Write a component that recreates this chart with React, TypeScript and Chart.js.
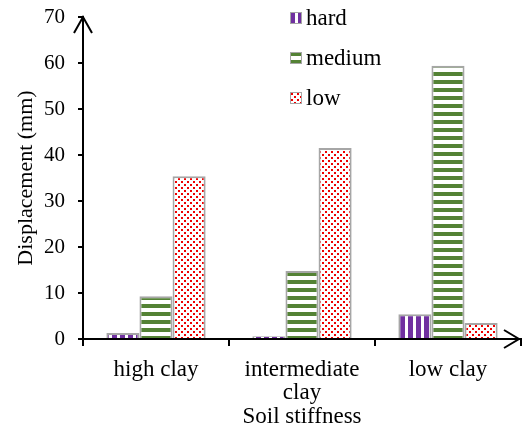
import { useEffect, useRef } from 'react';
import { Chart, registerables } from 'chart.js';

Chart.register(...registerables);

const FONT = '"Liberation Serif", "Times New Roman", serif';

// Soil categories along the x axis
const categories: (string | string[])[] = ['high clay', ['intermediate', 'clay'], 'low clay'];
const seriesNames = ['hard', 'medium', 'low'];

// Displacement (mm) for each series
const hardValues = [1.3, 0.6, 5.4];
const mediumValues = [9.3, 14.8, 59.4];
const lowValues = [35.4, 41.5, 3.5];

// y axis range and tick step
const yMin = 0;
const yMax = 70;
const yStep = 10;

const PURPLE = '#7030a0';
const GREEN = '#548235';
const RED = '#ee0000';
const EDGE = '#a6a6a6';

function makeTile(w: number, h: number, draw: (c: CanvasRenderingContext2D) => void) {
  const cv = document.createElement('canvas');
  cv.width = w;
  cv.height = h;
  const c = cv.getContext('2d')!;
  c.fillStyle = '#ffffff';
  c.fillRect(0, 0, w, h);
  draw(c);
  return cv;
}

function buildPatterns(ctx: CanvasRenderingContext2D) {
  const vertical = makeTile(8, 8, (c) => {
    c.fillStyle = PURPLE;
    c.fillRect(0, 0, 5, 8);
  });
  const horizontal = makeTile(8, 8, (c) => {
    c.fillStyle = GREEN;
    c.fillRect(0, 0, 8, 4);
  });
  const dots = makeTile(6, 6, (c) => {
    c.fillStyle = RED;
    c.fillRect(1, 1, 2, 2);
    c.fillRect(4, 4, 2, 2);
  });
  return [
    ctx.createPattern(vertical, 'repeat')!,
    ctx.createPattern(horizontal, 'repeat')!,
    ctx.createPattern(dots, 'repeat')!,
  ];
}

// Arrow heads on both axes
const axisArrows = {
  id: 'axisArrows',
  afterDraw(chart: any) {
    const { ctx, chartArea } = chart;
    const { left, right, top, bottom } = chartArea;
    ctx.save();
    ctx.strokeStyle = '#000';
    ctx.lineWidth = 2;
    ctx.lineCap = 'butt';
    ctx.lineJoin = 'miter';
    ctx.beginPath();
    ctx.moveTo(left - 9, top + 16);
    ctx.lineTo(left, top);
    ctx.lineTo(left + 9, top + 16);
    ctx.stroke();
    const tip = right - 2;
    ctx.beginPath();
    ctx.moveTo(tip - 15, bottom - 9);
    ctx.lineTo(tip, bottom);
    ctx.lineTo(tip - 15, bottom + 9);
    ctx.stroke();
    ctx.restore();
  },
};

// Vertical legend in the upper part of the plot
const stackedLegend = {
  id: 'stackedLegend',
  afterDraw(chart: any) {
    const { ctx } = chart;
    ctx.save();
    ctx.font = `23px ${FONT}`;
    ctx.textBaseline = 'middle';
    ctx.textAlign = 'left';
    chart.data.datasets.forEach((ds: any, i: number) => {
      const cy = 18 + i * 40;
      const bx = 290;
      const by = cy - 6;
      ctx.save();
      ctx.translate(bx, by);
      ctx.fillStyle = ds.backgroundColor;
      ctx.fillRect(0, 0, 12, 12);
      ctx.strokeStyle = EDGE;
      ctx.lineWidth = 1;
      ctx.strokeRect(0.5, 0.5, 11, 11);
      ctx.restore();
      ctx.fillStyle = '#000';
      ctx.fillText(ds.label, 306, cy + 1);
    });
    ctx.restore();
  },
};

export default function App() {
  const canvasRef = useRef<HTMLCanvasElement>(null);

  useEffect(() => {
    const canvas = canvasRef.current!;
    const ctx = canvas.getContext('2d')!;
    const patterns = buildPatterns(ctx);
    const values = [hardValues, mediumValues, lowValues];

    const chart = new Chart(ctx, {
      type: 'bar',
      data: {
        labels: categories,
        datasets: seriesNames.map((name, i) => ({
          label: name,
          data: values[i],
          backgroundColor: patterns[i],
          borderColor: EDGE,
          borderWidth: 2,
          barPercentage: 1,
          categoryPercentage: 0.68,
        })),
      },
      options: {
        responsive: false,
        animation: false,
        layout: { padding: { top: 17, right: 2, left: 0, bottom: 0 } },
        plugins: {
          legend: { display: false },
          tooltip: { enabled: false },
        },
        scales: {
          x: {
            type: 'category',
            offset: true,
            afterFit: (scale: any) => {
              scale.height = 102;
            },
            border: { display: true, color: '#000', width: 2 },
            grid: {
              offset: true,
              drawOnChartArea: false,
              drawTicks: true,
              tickLength: 7,
              color: '#000',
              lineWidth: 2,
            },
            ticks: {
              color: '#000',
              padding: 12,
              maxRotation: 0,
              autoSkip: false,
              font: { family: FONT, size: 23, lineHeight: 1.02 },
            },
            title: {
              display: true,
              text: 'Soil stiffness',
              color: '#000',
              padding: { top: 0, bottom: 10 },
              font: { family: FONT, size: 23, lineHeight: 1.2 },
            },
          },
          y: {
            min: yMin,
            max: yMax,
            afterFit: (scale: any) => {
              scale.width = 83;
              scale.paddingTop = 0;
              scale.paddingBottom = 0;
            },
            border: { display: true, color: '#000', width: 2 },
            grid: {
              drawOnChartArea: false,
              drawTicks: true,
              tickLength: 5,
              color: '#000',
              lineWidth: 2,
            },
            ticks: {
              stepSize: yStep,
              color: '#000',
              padding: 13,
              font: { family: FONT, size: 21 },
            },
            title: {
              display: true,
              text: 'Displacement (mm)',
              color: '#000',
              padding: { top: 13, bottom: 0 },
              font: { family: FONT, size: 22, lineHeight: 1.2 },
            },
          },
        },
      },
      plugins: [axisArrows, stackedLegend],
    });

    return () => chart.destroy();
  }, []);

  return (
    <div style={{ position: 'fixed', left: 0, top: 0, width: 523, height: 441, background: '#fff' }}>
      <canvas ref={canvasRef} width={523} height={441} style={{ display: 'block' }} />
    </div>
  );
}
